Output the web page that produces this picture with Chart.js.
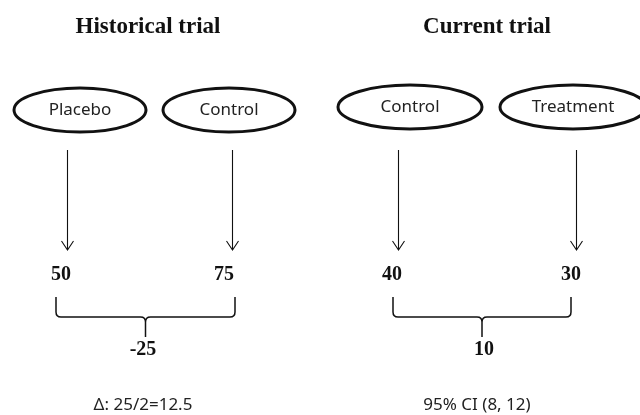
<!DOCTYPE html>
<html>
<head>
<meta charset="utf-8">
<script src="https://cdn.jsdelivr.net/npm/chart.js@4"></script>
<style>
  html, body { margin: 0; padding: 0; background: #fff; }
  #wrap { width: 640px; height: 415px; }
</style>
</head>
<body>
<div id="wrap"><canvas id="chart" width="640" height="415"></canvas></div>
<script>
// diagram content
const trials = ['Historical trial', 'Current trial'];
const arms = [['Placebo', 'Control'], ['Control', 'Treatment']];
const armValues = [[50, 75], [40, 30]];
const differences = [-25, 10];
const notes = ['\u0394: 25/2=12.5', '95% CI (8, 12)'];

// where things go, in canvas units (x 0..640, y 0..415)
const layout = {
    titleX: [148, 487], titleY: 27,
    ellipseX: [[80, 229], [410, 573]], ellipseY: [110, 107], rx: [[66, 66], [72, 73]], ry: 22,
    arrowX: [[67, 232], [398, 576]], arrowTop: 150, arrowBottom: 250,
    valueX: [[61, 224], [392, 571]], valueY: 275,
    braceX: [[56, 235], [393, 571]], braceTop: 297, braceMid: 317, braceTip: 337,
    diffX: [143, 484], diffY: 350,
    noteX: [143, 477], noteY: 405
};

const serif = '"Liberation Serif", "Times New Roman", serif';
const sans = '"Noto Sans", "Open Sans", sans-serif';

const diagramPlugin = {
    id: 'diagram',
    afterDraw(chart) {
        const ctx = chart.ctx;
        const sx = chart.scales.x, sy = chart.scales.y;
        const X = v => sx.getPixelForValue(v);
        const Y = v => sy.getPixelForValue(v);
        ctx.save();
        ctx.textAlign = 'center';
        ctx.textBaseline = 'middle';
        ctx.fillStyle = '#111';
        ctx.strokeStyle = '#111';

        trials.forEach((t, i) => {
            ctx.font = 'bold 23px ' + serif;
            ctx.fillText(t, X(layout.titleX[i]), Y(layout.titleY));

            arms[i].forEach((a, j) => {
                // group ellipse
                ctx.lineWidth = 3;
                ctx.beginPath();
                ctx.ellipse(X(layout.ellipseX[i][j]), Y(layout.ellipseY[i]), layout.rx[i][j], layout.ry, 0, 0, Math.PI * 2);
                ctx.stroke();
                ctx.font = '17px ' + sans;
                ctx.fillStyle = '#222';
                ctx.fillText(a, X(layout.ellipseX[i][j]), Y(layout.ellipseY[i]));
                ctx.fillStyle = '#111';

                // arrow down
                const ax = X(layout.arrowX[i][j]) + 0.5;
                const by = Y(layout.arrowBottom);
                ctx.lineWidth = 1.1;
                ctx.beginPath();
                ctx.moveTo(ax, Y(layout.arrowTop));
                ctx.lineTo(ax, by);
                ctx.moveTo(ax - 6, by - 9);
                ctx.lineTo(ax, by);
                ctx.lineTo(ax + 6, by - 9);
                ctx.stroke();

                // value
                ctx.font = 'bold 20px ' + serif;
                ctx.fillText(String(armValues[i][j]), X(layout.valueX[i][j]), Y(layout.valueY));
            });

            // brace
            const x1 = X(layout.braceX[i][0]), x2 = X(layout.braceX[i][1]);
            const xm = (x1 + x2) / 2;
            const top = Y(layout.braceTop), mid = Y(layout.braceMid), tip = Y(layout.braceTip);
            const r = 5;
            ctx.lineWidth = 1.5;
            ctx.beginPath();
            ctx.moveTo(x1, top);
            ctx.lineTo(x1, mid - r);
            ctx.quadraticCurveTo(x1, mid, x1 + r, mid);
            ctx.lineTo(xm - r, mid);
            ctx.quadraticCurveTo(xm, mid, xm, mid + r);
            ctx.lineTo(xm, tip);
            ctx.moveTo(xm, mid + r);
            ctx.quadraticCurveTo(xm, mid, xm + r, mid);
            ctx.lineTo(x2 - r, mid);
            ctx.quadraticCurveTo(x2, mid, x2, mid - r);
            ctx.lineTo(x2, top);
            ctx.stroke();

            ctx.font = 'bold 20px ' + serif;
            ctx.fillText(String(differences[i]), X(layout.diffX[i]), Y(layout.diffY));

            ctx.font = '17px ' + sans;
            ctx.fillStyle = '#222';
            ctx.fillText(notes[i], X(layout.noteX[i]), Y(layout.noteY));
            ctx.fillStyle = '#111';
        });
        ctx.restore();
    }
};

const ctx = document.getElementById('chart').getContext('2d');
const myChart = new Chart(ctx, {
    type: 'scatter',
    data: { datasets: [{ data: [], pointRadius: 0 }] },
    options: {
        responsive: false,
        animation: false,
        layout: { padding: 0 },
        scales: {
            x: { type: 'linear', min: 0, max: 640, display: false },
            y: { type: 'linear', min: 0, max: 415, reverse: true, display: false }
        },
        plugins: {
            legend: { display: false },
            tooltip: { enabled: false }
        }
    },
    plugins: [diagramPlugin]
});
</script>
</body>
</html>
